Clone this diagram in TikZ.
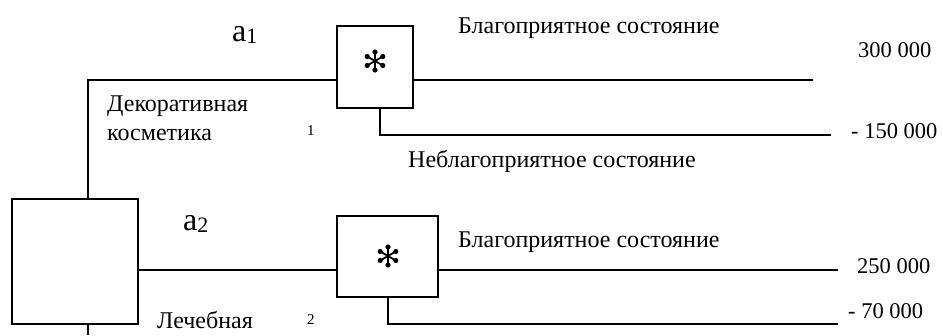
\documentclass[tikz,border=0pt]{standalone}
\usepackage{fontspec}
\setmainfont{Liberation Serif}
\tikzset{
  box/.style={draw, line width=1.9pt, inner sep=0pt, rectangle},
  wire/.style={line width=1.9pt},
  lbl/.style={anchor=base west, inner sep=0pt, font=\fontsize{24}{28}\selectfont},
  num/.style={anchor=base west, inner sep=0pt, font=\fontsize{22.5}{26}\selectfont},
  small/.style={anchor=base west, inner sep=0pt, font=\fontsize{15}{18}\selectfont},
  star6/.pic={
    \foreach \a in {90,30,-30,-90,-150,150}{
      \draw[line width=1.8pt] (0,0) -- (\a:8.6);
      \fill (\a:9) circle (2.6);
    }
  }
}
\begin{document}
\begin{tikzpicture}[x=1pt,y=-1pt]
\useasboundingbox (0,0) rectangle (943,335);
% boxes
\node[box, minimum width=126pt, minimum height=125pt] (root) at (75,261.5) {};
\node[box, minimum width=76pt, minimum height=82pt] (b1) at (375,67) {};
\node[box, minimum width=101pt, minimum height=81pt] (b2) at (387.5,256.5) {};
\pic at (375,61) {star6};
\pic at (388,256) {star6};
% coordinates
\coordinate (c1) at (88,80);
\coordinate (c2) at (138,270);
\coordinate (bot) at (88,335);
\coordinate (e1) at (813,80);
\coordinate (d1) at (380,135);
\coordinate (f1) at (831,135);
\coordinate (e2) at (838,270);
\coordinate (d2) at (388,324);
\coordinate (f2) at (838,324);
% connectors
\draw[wire] (root.north -| c1) -- (c1) -- (b1.west |- c1);
\draw[wire] (root.south -| c1) -- (bot);
\draw[wire] (root.east |- c2) -- (b2.west |- c2);
\draw[wire] (b1.east |- c1) -- (e1);
\draw[wire] (b1.south -| d1) -- (d1) -- (f1);
\draw[wire] (b2.east |- e2) -- (e2);
\draw[wire] (b2.south -| d2) -- (d2) -- (f2);
% labels
\node[anchor=base west, inner sep=0pt, font=\fontsize{32}{36}\selectfont] (a1) at (232,41) {a\raisebox{-2pt}{\fontsize{22}{26}\selectfont 1}};
\node[anchor=base west, inner sep=0pt, font=\fontsize{32}{36}\selectfont] (a2) at (183,230) {a\raisebox{-2pt}{\fontsize{22}{26}\selectfont 2}};
\node[lbl] (g1) at (458,33) {Благоприятное состояние};
\node[lbl] (n1) at (408,167) {Неблагоприятное состояние};
\node[lbl] (g2) at (458,247) {Благоприятное состояние};
\node[lbl] (dk) at (107,111) {Декоративная};
\node[lbl] (ks) at (107,140) {косметика};
\node[lbl] (lc) at (157,328) {Лечебная};
\node[num] (v1) at (858,57) {300 000};
\node[num] (v2) at (851,138) {- 150 000};
\node[num] (v3) at (857,273) {250 000};
\node[num] (v4) at (848,318) {- 70 000};
\node[small] (s1) at (307,135) {1};
\node[small] (s2) at (307,324) {2};
\end{tikzpicture}
\end{document}
